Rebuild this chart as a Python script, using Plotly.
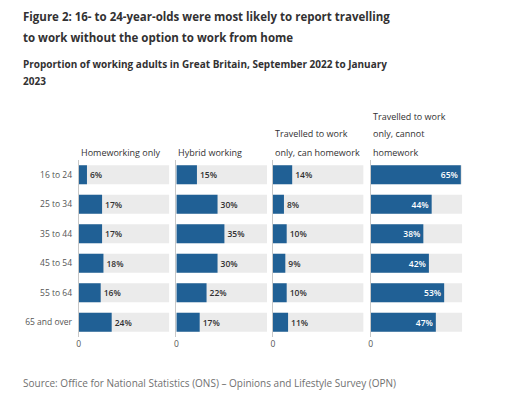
from plotly.graph_objects import Bar, Figure

# data
ages = ["16 to 24", "25 to 34", "35 to 44", "45 to 54", "55 to 64", "65 and over"]
homeworking_only = [6, 17, 17, 18, 16, 24]
hybrid_working = [15, 30, 35, 30, 22, 17]
travel_can_homework = [14, 8, 10, 9, 10, 11]
travel_cannot_homework = [65, 44, 38, 42, 53, 47]
panel_headers = [
    ["Homeworking only"],
    ["Hybrid working"],
    ["Travelled to work", "only, can homework"],
    ["Travelled to work", "only, cannot", "homework"],
]
scale_max = 66  # grey background bars fill the whole scale

BLUE = "#206095"
GREY = "#ebebeb"
TXT = "#323132"
FONT = "Open Sans"
W, H = 509, 400
OFF = 8  # page body margin


def px(sx):
    return (sx - OFF) / W


def py(sy):
    return 1 - (sy - OFF) / H


series = [homeworking_only, hybrid_working, travel_can_homework, travel_cannot_homework]
x_domains = [[px(77), px(168)], [px(175), px(266)], [px(272), px(363)], [px(370), px(462)]]
y_domain = [py(337), py(160)]

fig = Figure()
layout = {}
for i, vals in enumerate(series):
    n = "" if i == 0 else str(i + 1)
    xa, ya = "x" + n, "y" + n
    fig.add_trace(Bar(x=[scale_max] * len(ages), y=ages, orientation="h",
                      marker=dict(color=GREY, line=dict(width=0)),
                      xaxis=xa, yaxis=ya, hoverinfo="skip", showlegend=False))
    last = i == 3
    fig.add_trace(Bar(x=vals, y=ages, orientation="h",
                      marker=dict(color=BLUE, line=dict(width=0)),
                      text=[str(v) + "%" for v in vals],
                      textposition="inside" if last else "outside",
                      insidetextanchor="end",
                      constraintext="none",
                      cliponaxis=False,
                      textfont=dict(family=FONT, size=8.5,
                                    color="white" if last else TXT, weight=600),
                      xaxis=xa, yaxis=ya, showlegend=False))
    layout["xaxis" + n] = dict(domain=x_domains[i], range=[0, scale_max], anchor=ya,
                               tickvals=[0], ticktext=["0"], showgrid=False,
                               zeroline=False, showline=False,
                               tickfont=dict(family=FONT, size=8.5, color="#555"),
                               fixedrange=True)
    layout["yaxis" + n] = dict(domain=y_domain, anchor=xa, autorange="reversed",
                               type="category", showgrid=False, zeroline=False,
                               showline=True, linecolor="#c8c8c8", linewidth=1,
                               showticklabels=(i == 0), ticks="",
                               ticklabelstandoff=4,
                               tickfont=dict(family=FONT, size=8.5, color="#555"))

annotations = []
# panel headers, bottom aligned above each panel
header_base = 152
for i, lines in enumerate(panel_headers):
    for k, line in enumerate(reversed(lines)):
        annotations.append(dict(text=line, x=x_domains[i][0], xref="paper",
                                y=py(header_base - k * 18), yref="paper",
                                xanchor="left", yanchor="middle", showarrow=False,
                                font=dict(family=FONT, size=9, color=TXT)))


def txt(s, sy, size, weight=400, color=TXT):
    annotations.append(dict(text=s, x=px(19), xref="paper", y=py(sy),
                            yref="paper", xanchor="left", yanchor="middle",
                            showarrow=False,
                            font=dict(family=FONT, size=size, color=color, weight=weight)))


txt("Figure 2: 16- to 24-year-olds were most likely to report travelling", 16, 11.5, 700)
txt("to work without the option to work from home", 37, 11.5, 700)
txt("Proportion of working adults in Great Britain, September 2022 to January", 64, 10, 700)
txt("2023", 81, 10, 700)
txt("Source: Office for National Statistics (ONS) \u2013 Opinions and Lifestyle Survey (OPN)",
    383, 10, 400, "#707070")

layout.update(dict(
    width=W, height=H, margin=dict(l=0, r=0, t=0, b=0),
    paper_bgcolor="white", plot_bgcolor="white",
    barmode="overlay", bargap=0.36,
    font=dict(family=FONT, color=TXT),
    annotations=annotations,
))
fig.update_layout(layout)
fig.write_html("out.html")
